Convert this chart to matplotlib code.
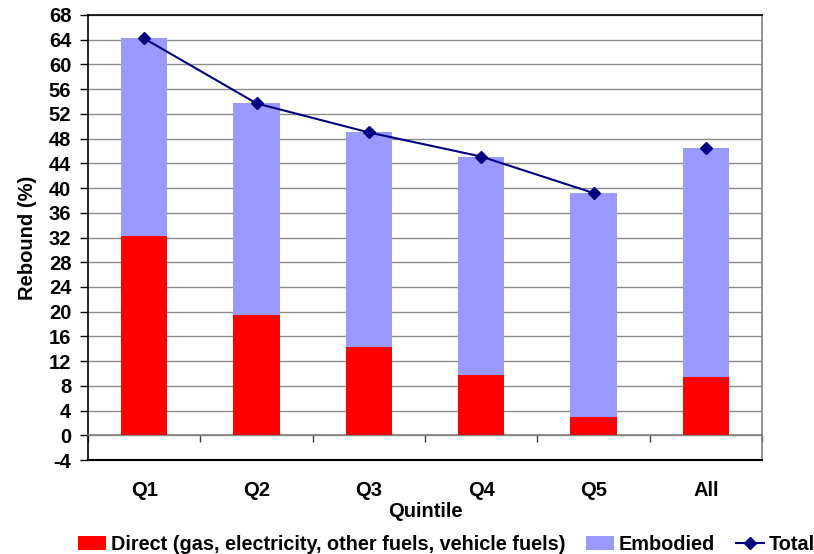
import matplotlib
matplotlib.use("Agg")
import matplotlib.pyplot as plt
import numpy as np

plt.rcParams['font.family'] = ['Liberation Sans', 'DejaVu Sans']
plt.rcParams['font.weight'] = 'bold'

categories = ["Q1", "Q2", "Q3", "Q4", "Q5", "All"]
direct = [32.3, 19.5, 14.3, 9.7, 2.9, 9.5]
total = [64.2, 53.7, 49.0, 45.1, 39.2, 46.5]
embodied = [t - d for t, d in zip(total, direct)]
yticks = list(range(-4, 69, 4))

FS = 14.5

fig = plt.figure(figsize=(8.14, 5.54), dpi=100)
ax = fig.add_axes([88/814, 1-460/554, (762-88)/814, 445/554])

x = np.arange(len(categories))
bw = 0.41
h1 = ax.bar(x, direct, bw, color='#FF0000', label='Direct (gas, electricity, other fuels, vehicle fuels)', zorder=3)
h2 = ax.bar(x, embodied, bw, bottom=direct, color='#9999FF', label='Embodied', zorder=3)
# Total line for quintiles, separate marker for "All"
h3, = ax.plot(x[:5], total[:5], color='#000080', lw=1.5, marker='D', ms=6.5, zorder=4, label='Total')
ax.plot(x[5:], total[5:], color='#000080', lw=0, marker='D', ms=6.5, zorder=4)

ax.set_xlim(-0.5, len(categories) - 0.5)
ax.set_ylim(-4, 68)
ax.set_yticks(yticks)
ax.set_yticklabels([str(v) for v in yticks], fontsize=FS, fontweight='bold')
ax.tick_params(axis='y', direction='out', length=6, width=1, pad=6, colors='black')
ax.yaxis.grid(True, color='#8c8c8c', lw=1, zorder=0)
ax.set_axisbelow(True)

# x-axis at zero
ax.spines['bottom'].set_position(('data', 0))
ax.spines['bottom'].set_color('#808080')
ax.spines['bottom'].set_linewidth(1.2)
ax.set_xticks(x)
ax.set_xticklabels(categories, fontsize=FS, fontweight='bold')
ax.set_xticks(np.arange(-0.5, len(categories), 1.0), minor=True)
ax.tick_params(axis='x', which='major', length=0, pad=33)
ax.tick_params(axis='x', which='minor', length=5, width=1, color='#404040', direction='out')
ax.axhline(-4, color='black', lw=1.5, zorder=5, clip_on=False)

ax.spines['left'].set_color('black')
ax.spines['left'].set_linewidth(1.2)
ax.spines['top'].set_color('black')
ax.spines['top'].set_linewidth(1.2)
ax.spines['right'].set_color('#808080')
ax.spines['right'].set_linewidth(1.2)

ax.set_ylabel('Rebound (%)', fontsize=FS, fontweight='bold')
ax.yaxis.set_label_coords(-0.076, 0.5)
ax.set_xlabel('Quintile', fontsize=FS, fontweight='bold')
ax.xaxis.set_label_coords(0.5, -0.094)

leg = fig.legend([h1, h2, h3], [h1.get_label(), h2.get_label(), h3.get_label()],
                 loc='center left', bbox_to_anchor=(78/814, 1-544/554),
                 ncol=3, frameon=False, prop={'weight': 'bold', 'size': 14.3},
                 handlelength=1.4, handletextpad=0.25, columnspacing=1.05, borderpad=0,
                 borderaxespad=0)

fig.savefig('out.png', dpi=100)
